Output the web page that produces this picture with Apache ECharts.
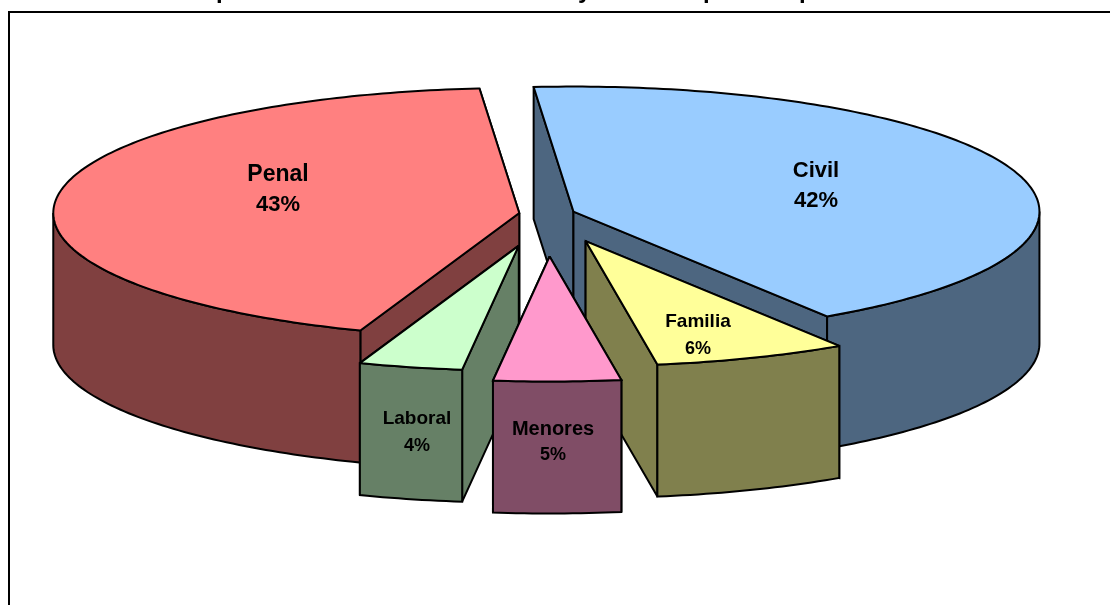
<!DOCTYPE html>
<html>
<head>
<meta charset="utf-8">
<style>html,body{margin:0;padding:0;background:#fff;overflow:hidden}#chart{width:1110px;height:605px}</style>
<script src="https://cdn.jsdelivr.net/npm/echarts@6/dist/echarts.min.js"></script>
</head>
<body>
<div id="chart"></div>
<script>
// clockwise from the start angle
var categories = ['Civil', 'Familia', 'Menores', 'Laboral', 'Penal'];
// slice sizes as measured on the drawing (the printed labels are rounded differently)
var sliceShares = [42.2, 6.7, 4.4, 3.6, 43.1];
var percentLabels = ['42%', '6%', '5%', '4%', '43%'];
var topColors = ['#99CCFF', '#FFFF99', '#FF99CC', '#CCFFCC', '#FF8080'];
var sideColors = ['#4D6680', '#80804D', '#804D66', '#668066', '#804040'];
// how far each slice is pulled out, as a fraction of the radius
var explode = [0.06, 0.232, 0.34, 0.26, 0.06];
// letters of the cut off title that can still be seen
var titleGlyphs = ['p', 'y', 'p', 'p'];

var CX = 547, CY = 214, RX = 466, RY = 125, DEPTH = 132;
var START_ANGLE = -4.9;
var FONT = '"Liberation Sans", Arial, sans-serif';

// back to front
var paintOrder = [4, 0, 3, 1, 2];
var labelLayout = {
  Civil: { x: 816, y: 171, gap: 30, size: 22, pctSize: 22 },
  Familia: { x: 698, y: 322, gap: 27, size: 19, pctSize: 18 },
  Menores: { x: 553, y: 429, gap: 26, size: 20, pctSize: 18 },
  Laboral: { x: 417, y: 419, gap: 27, size: 19, pctSize: 18 },
  Penal: { x: 278, y: 175, gap: 30, size: 23, pctSize: 22 }
};

var chart = echarts.init(document.getElementById('chart'), null, { renderer: 'canvas' });

// start and end angle of every slice, degrees clockwise from the top
var total = sliceShares.reduce(function (a, b) { return a + b; }, 0);
var angles = [];
var acc = START_ANGLE;
sliceShares.forEach(function (v) {
  var span = v / total * 360;
  angles.push([acc, acc + span]);
  acc += span;
});

function onRim(ox, oy, deg) {
  var t = deg * Math.PI / 180;
  return [ox + RX * Math.sin(t), oy - RY * Math.cos(t)];
}

function arcPoints(ox, oy, from, to) {
  var pts = [];
  for (var a = from; a < to; a += 1) {
    pts.push(onRim(ox, oy, a));
  }
  pts.push(onRim(ox, oy, to));
  return pts;
}

function dropped(pts) {
  return pts.map(function (p) { return [p[0], p[1] + DEPTH]; }).reverse();
}

function face(points, fill) {
  return {
    type: 'polygon',
    shape: { points: points },
    style: { fill: fill, stroke: '#000', lineWidth: 2, lineJoin: 'miter', miterLimit: 2 }
  };
}

function label(text, x, y, size) {
  return {
    type: 'text',
    style: {
      text: text, x: x, y: y, align: 'center', verticalAlign: 'middle',
      font: 'bold ' + size + 'px ' + FONT, fill: '#000'
    }
  };
}

function renderSlice(params, api) {
  var i = api.value(0);
  var from = angles[i][0], to = angles[i][1];
  var mid = (from + to) / 2;
  var apex = [
    CX + explode[i] * RX * Math.sin(mid * Math.PI / 180),
    CY - explode[i] * RY * Math.cos(mid * Math.PI / 180)
  ];
  var side = sideColors[i];
  var startRim = onRim(apex[0], apex[1], from);
  var endRim = onRim(apex[0], apex[1], to);

  // radial walls, the one reaching furthest back first
  var walls = [startRim, endRim].sort(function (a, b) { return a[1] - b[1]; });
  var children = walls.map(function (rim) {
    return face([apex, rim, [rim[0], rim[1] + DEPTH], [apex[0], apex[1] + DEPTH]], side);
  });

  // outer wall, only the part facing the viewer
  var a0 = Math.max(from, 90), a1 = Math.min(to, 270);
  if (a1 > a0) {
    var rim = arcPoints(apex[0], apex[1], a0, a1);
    children.push(face(rim.concat(dropped(rim)), side));
  }

  children.push(face([apex].concat(arcPoints(apex[0], apex[1], from, to)), topColors[i]));

  var l = labelLayout[categories[i]];
  children.push(label(categories[i], l.x, l.y, l.size));
  children.push(label(percentLabels[i], l.x, l.y + l.gap, l.pctSize));
  return { type: 'group', children: children };
}

var glyphX = [216, 578, 703, 799];

chart.setOption({
  animation: false,
  backgroundColor: '#fff',
  graphic: titleGlyphs.map(function (g, k) {
    return {
      type: 'text', x: glyphX[k], y: 3,
      style: { text: g, font: 'bold 24px ' + FONT, fill: '#000', verticalAlign: 'bottom' }
    };
  }).concat([{
    type: 'polyline',
    shape: { points: [[9, 605], [9, 12], [1110, 12]] },
    style: { stroke: '#000', lineWidth: 2, fill: null }
  }]),
  series: [{
    type: 'custom',
    coordinateSystem: 'none',
    silent: true,
    clip: false,
    renderItem: renderSlice,
    data: paintOrder.map(function (i) { return [i]; })
  }]
});
</script>
</body>
</html>
